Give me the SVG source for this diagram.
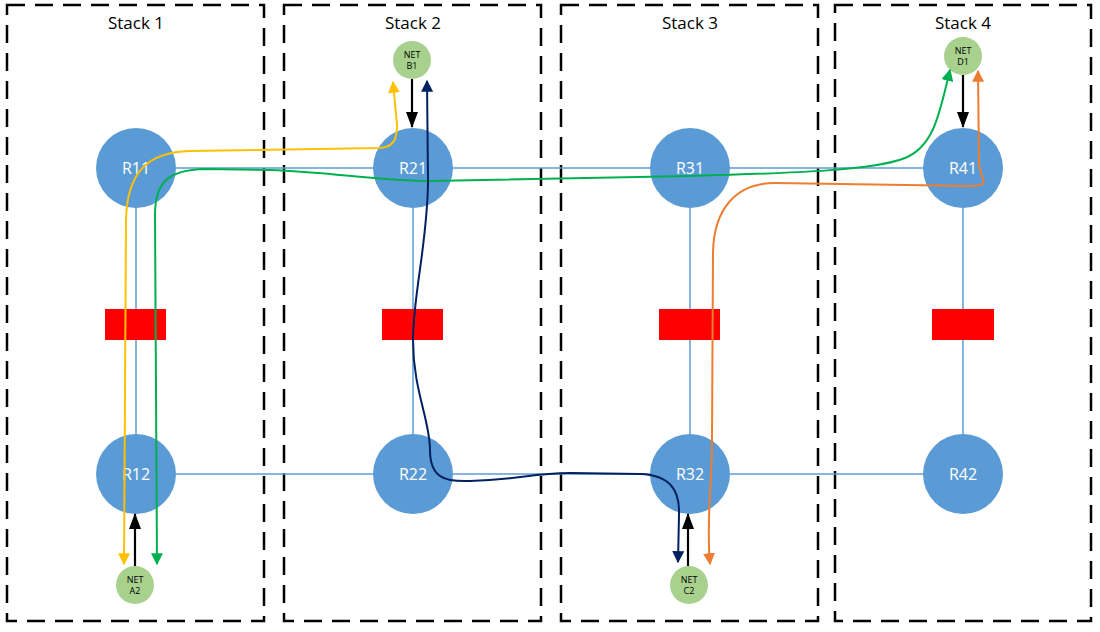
<svg xmlns="http://www.w3.org/2000/svg" width="1100" height="632" viewBox="0 0 1100 632">
<style>
.stack{fill:none;stroke:#000;stroke-width:2.5;stroke-dasharray:18 10}
.title{font-family:"Open Sans","Liberation Sans",Arial,sans-serif;font-size:17px;fill:#000;text-anchor:middle}
.link{stroke:#5B9BD5;stroke-width:1.5;fill:none}
.router{fill:#5B9BD5}
.rlabel{font-family:"Open Sans","Liberation Sans",Arial,sans-serif;font-size:16px;fill:#fff;text-anchor:middle}
.net{fill:#A9D18E}
.nlabel{font-family:"Open Sans","Liberation Sans",Arial,sans-serif;font-size:9px;fill:#000;text-anchor:middle}
.block{fill:#FF0000}
.flow{fill:none;stroke-width:2}
.blk{stroke:#000;stroke-width:2.2;fill:none;marker-end:url(#mBlack)}
</style>
<defs>
<marker id="mBlack" viewBox="0 0 16 12" refX="15" refY="6" markerWidth="16" markerHeight="12" markerUnits="userSpaceOnUse" orient="auto"><path d="M0,0 L16,6 L0,12 z" fill="#000"/></marker>
<marker id="mY" viewBox="0 0 10 10" refX="9" refY="5" markerWidth="12" markerHeight="12" markerUnits="userSpaceOnUse" orient="auto-start-reverse"><path d="M0,0 L10,5 L0,10 z" fill="#FFC000"/></marker>
<marker id="mG" viewBox="0 0 10 10" refX="9" refY="5" markerWidth="12" markerHeight="12" markerUnits="userSpaceOnUse" orient="auto-start-reverse"><path d="M0,0 L10,5 L0,10 z" fill="#00B050"/></marker>
<marker id="mO" viewBox="0 0 10 10" refX="9" refY="5" markerWidth="12" markerHeight="12" markerUnits="userSpaceOnUse" orient="auto-start-reverse"><path d="M0,0 L10,5 L0,10 z" fill="#ED7D31"/></marker>
<marker id="mN" viewBox="0 0 10 10" refX="9" refY="5" markerWidth="12" markerHeight="12" markerUnits="userSpaceOnUse" orient="auto-start-reverse"><path d="M0,0 L10,5 L0,10 z" fill="#002060"/></marker>
</defs>
<rect width="1100" height="632" fill="#fff"/>
<g id="stacks">
<rect class="stack" x="7" y="5" width="257" height="616"/>
<rect class="stack" x="284" y="5" width="257" height="616"/>
<rect class="stack" x="561" y="5" width="257" height="616"/>
<rect class="stack" x="835" y="5" width="256" height="616"/>
<text class="title" x="136" y="29">Stack 1</text>
<text class="title" x="413" y="29">Stack 2</text>
<text class="title" x="690" y="29">Stack 3</text>
<text class="title" x="963" y="29">Stack 4</text>
</g>
<g id="links">
<line class="link" x1="136" y1="168" x2="963" y2="168"/>
<line class="link" x1="136" y1="474" x2="963" y2="474"/>
<line class="link" x1="136" y1="168" x2="136" y2="474"/>
<line class="link" x1="413" y1="168" x2="413" y2="474"/>
<line class="link" x1="690" y1="168" x2="690" y2="474"/>
<line class="link" x1="963" y1="168" x2="963" y2="474"/>
</g>
<g id="blocks">
<rect class="block" x="105" y="309" width="61" height="31"/>
<rect class="block" x="382" y="309" width="61" height="31"/>
<rect class="block" x="659" y="309" width="61" height="31"/>
<rect class="block" x="932" y="309" width="62" height="31"/>
</g>
<g id="R11"><circle class="router" cx="136" cy="168" r="40"/><text class="rlabel" x="136" y="174">R11</text></g>
<g id="R21"><circle class="router" cx="413" cy="168" r="40"/><text class="rlabel" x="413" y="174">R21</text></g>
<g id="R31"><circle class="router" cx="690" cy="168" r="40"/><text class="rlabel" x="690" y="174">R31</text></g>
<g id="R41"><circle class="router" cx="963" cy="168" r="40"/><text class="rlabel" x="963" y="174">R41</text></g>
<g id="R12"><circle class="router" cx="136" cy="474" r="40"/><text class="rlabel" x="136" y="480">R12</text></g>
<g id="R22"><circle class="router" cx="413" cy="474" r="40"/><text class="rlabel" x="413" y="480">R22</text></g>
<g id="R32"><circle class="router" cx="690" cy="474" r="40"/><text class="rlabel" x="690" y="480">R32</text></g>
<g id="R42"><circle class="router" cx="963" cy="474" r="40"/><text class="rlabel" x="963" y="480">R42</text></g>
<g id="NET_B1"><circle class="net" cx="412" cy="60" r="19"/><text class="nlabel" x="412" y="58">NET</text><text class="nlabel" x="412" y="69">B1</text></g>
<g id="NET_D1"><circle class="net" cx="963" cy="56" r="19"/><text class="nlabel" x="963" y="54">NET</text><text class="nlabel" x="963" y="65">D1</text></g>
<g id="NET_A2"><circle class="net" cx="135" cy="585" r="19"/><text class="nlabel" x="135" y="583">NET</text><text class="nlabel" x="135" y="594">A2</text></g>
<g id="NET_C2"><circle class="net" cx="689" cy="585" r="19"/><text class="nlabel" x="689" y="583">NET</text><text class="nlabel" x="689" y="594">C2</text></g>
<g id="connectors">
<line class="blk" x1="412" y1="79" x2="412" y2="127"/>
<line class="blk" x1="963" y1="75" x2="963" y2="127"/>
<line class="blk" x1="135" y1="566" x2="135" y2="514"/>
<line class="blk" x1="688" y1="566" x2="688" y2="514"/>
<path class="flow" stroke="#FFC000" marker-start="url(#mY)" marker-end="url(#mY)" d="M124,564 L126,220 C127,172 148,152 190,151 L380,148 C394,147 397,139 397,125 L393,82"/>
<path class="flow" stroke="#00B050" marker-start="url(#mG)" marker-end="url(#mG)" d="M157,564 L155,215 C155,182 168,170 205,169 L270,170 C330,172 380,181 430,181 L690,176 C800,173 875,170 905,158 C935,146 940,110 950,70"/>
<path class="flow" stroke="#ED7D31" marker-start="url(#mO)" marker-end="url(#mO)" d="M978,71 L979,163 C980,178 992,186 972,186 L775,183 C735,183 714,210 713,252 L712,440 C712,485 706,520 710,564"/>
<path class="flow" stroke="#002060" marker-start="url(#mN)" marker-end="url(#mN)" d="M427,81 L428,180 C428,240 413,295 413,340 C413,390 430,420 430,450 C430,478 445,482 470,481 C520,480 530,473 570,473 L640,474 C670,475 680,490 679,515 L678,562"/>
</g>
</svg>
